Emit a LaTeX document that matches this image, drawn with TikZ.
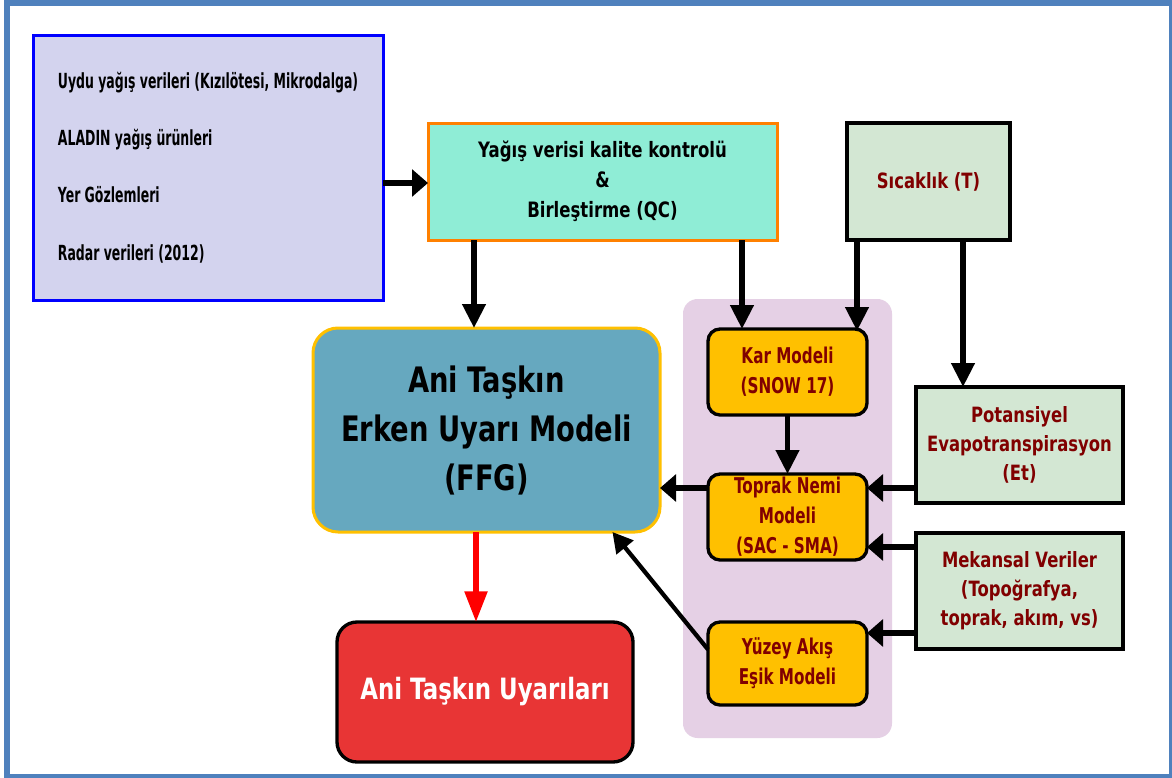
\documentclass[tikz,border=0pt]{standalone}
\usepackage{fontspec}
\usetikzlibrary{arrows.meta}
\newfontfamily\fa{DejaVu Sans Bold}[FakeStretch=0.6]
\newfontfamily\fb{DejaVu Sans Bold}[FakeStretch=0.78]
\newfontfamily\fc{DejaVu Sans Bold}[FakeStretch=0.7]
\definecolor{frameblue}{HTML}{4F81BD}
\definecolor{inpfill}{HTML}{D3D3EE}
\definecolor{inpborder}{HTML}{0000FF}
\definecolor{qcfill}{HTML}{8FEDD6}
\definecolor{qcborder}{HTML}{FF8000}
\definecolor{greenfill}{HTML}{D3E7D3}
\definecolor{darkred}{HTML}{800000}
\definecolor{gold}{HTML}{FFC000}
\definecolor{mauve}{HTML}{E5D0E5}
\definecolor{ffgfill}{HTML}{66A8BF}
\definecolor{warnred}{HTML}{E83535}
\begin{document}
\begin{tikzpicture}[x=0.75pt,y=-0.75pt,
  every node/.style={inner sep=0pt, outer sep=0pt},
  inpbox/.style={draw=inpborder, fill=inpfill, line width=2.25pt, align=left,
    font={\fa\fontsize{15.6}{43}\selectfont}},
  qcbox/.style={draw=qcborder, fill=qcfill, line width=2.25pt, align=center,
    font={\fb\fontsize{15.9}{22.5}\selectfont}},
  greenbox/.style={draw=black, fill=greenfill, line width=2.5pt, align=center,
    text=darkred, font={\fb\fontsize{15.8}{21.75}\selectfont}},
  orangebox/.style={draw=black, fill=gold, line width=2.5pt, rounded corners=9pt,
    align=center, text=darkred, font={\fc\fontsize{16.3}{22.5}\selectfont},
    minimum width=119.25pt},
  ffgbox/.style={draw=gold, fill=ffgfill, line width=2.25pt, rounded corners=18.75pt,
    align=center, font={\fb\fontsize{26.3}{36.75}\selectfont}},
  warnbox/.style={draw=black, fill=warnred, line width=2.5pt, rounded corners=15pt,
    align=center, text=white, font={\fb\fontsize{22}{28}\selectfont}},
  bgbox/.style={fill=mauve, rounded corners=11pt},
  varr/.style={line width=4pt, -{Triangle[length=18pt,width=17pt]}},
  harr/.style={line width=4pt, -{Triangle[length=12pt,width=20pt]}},
  darr/.style={line width=3.2pt, -{Triangle[length=15pt,width=16pt]}},
  rarr/.style={red, line width=4pt, -{Triangle[length=23pt,width=16.5pt]}}
]
\useasboundingbox (0,0) rectangle (1172,778);
\fill[white] (0,0) rectangle (1172,778);
\draw[frameblue, line width=4.5pt] (7,3) rectangle (1172,777);

% background group
\node[bgbox, minimum width=156.75pt, minimum height=329.25pt] (bg) at (787.5,518.5) {};

% boxes
\node[inpbox, minimum width=262.5pt, minimum height=198.75pt] (inp) at (208,167.5)
  {Uydu yağış verileri (Kızılötesi, Mikrodalga)\\ALADIN yağış ürünleri\\Yer Gözlemleri\\Radar verileri (2012)};
\node[qcbox, minimum width=261.75pt, minimum height=87.75pt] (qc) at (602.5,181.5)
  {Yağış verisi kalite kontrolü\\\&\\Birleştirme (QC)};
\node[greenbox, minimum width=122.25pt, minimum height=87.75pt] (sic) at (928.5,181.5)
  {Sıcaklık (T)};
\node[ffgbox, minimum width=260.25pt, minimum height=153pt] (ffg) at (486.5,430)
  {Ani Taşkın\\Erken Uyarı Modeli\\(FFG)};
\node[warnbox, minimum width=222pt, minimum height=105pt] (warn) at (485,692)
  {Ani Taşkın Uyarıları};
\node[orangebox, minimum height=64.5pt] (kar) at (787.5,372) {Kar Modeli\\(SNOW 17)};
\node[orangebox, minimum height=64.5pt] (toprak) at (787.5,517) {Toprak Nemi\\Modeli\\(SAC - SMA)};
\node[orangebox, minimum height=62.25pt] (yuzey) at (787.5,663.5) {Yüzey Akış\\Eşik Modeli};
\node[greenbox, minimum width=155.25pt, minimum height=87pt] (pot) at (1019.5,445)
  {Potansiyel\\Evapotranspirasyon\\(Et)};
\node[greenbox, minimum width=155.25pt, minimum height=87pt] (mek) at (1019.5,591)
  {Mekansal Veriler\\(Topoğrafya,\\toprak, akım, vs)};

% guide coordinates
\coordinate (yIn) at (0,183);
\coordinate (xQ1) at (474,0);
\coordinate (xQ2) at (742,0);
\coordinate (xS1) at (857,0);
\coordinate (xS2) at (963,0);
\coordinate (xR) at (476,0);
\coordinate (yT) at (0,488);
\coordinate (yM1) at (0,547);
\coordinate (yM2) at (0,633);

% connectors
\draw[harr] (inp.east |- yIn) -- (qc.west |- yIn);
\draw[varr] (qc.south -| xQ1) -- (ffg.north -| xQ1);
\draw[varr] (qc.south -| xQ2) -- (kar.north -| xQ2);
\draw[varr] (sic.south -| xS1) -- ([yshift=-1.5pt]kar.north -| xS1);
\draw[varr] (sic.south -| xS2) -- (pot.north -| xS2);
\draw[varr] (kar.south) -- (toprak.north);
\draw[harr] (pot.west |- yT) -- (toprak.east |- yT);
\draw[harr] (mek.west |- yM1) -- (toprak.east |- yM1);
\draw[harr] (mek.west |- yM2) -- (yuzey.east |- yM2);
\draw[harr] (toprak.west |- yT) -- (ffg.east |- yT);
\draw[darr] (yuzey.170) -- (ffg.321);
\draw[rarr] (ffg.south -| xR) -- (warn.north -| xR);
\end{tikzpicture}
\end{document}
